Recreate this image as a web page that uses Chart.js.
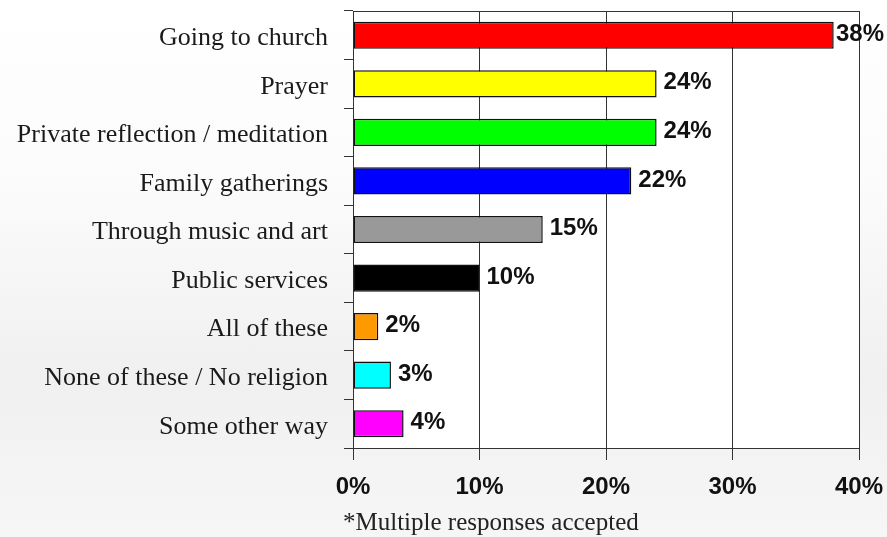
<!DOCTYPE html>
<html>
<head>
<meta charset="utf-8">
<script src="https://cdn.jsdelivr.net/npm/chart.js@4.4.1/dist/chart.umd.min.js"></script>
<style>
  html, body { margin: 0; padding: 0; }
  body {
    width: 887px; height: 537px; overflow: hidden;
    background: linear-gradient(180deg, #ffffff 0%, #fbfbfb 35%, #f0f0f0 70%, #f6f6f6 100%);
  }
  #wrap { position: relative; width: 887px; height: 537px; }
  canvas { display: block; }
</style>
</head>
<body>
<div id="wrap"><canvas id="chart" width="887" height="537"></canvas></div>
<script>
// Ways of expressing spirituality (percent of respondents)
const categories = [
  'Going to church',
  'Prayer',
  'Private reflection / meditation',
  'Family gatherings',
  'Through music and art',
  'Public services',
  'All of these',
  'None of these / No religion',
  'Some other way'
];
const values = [38, 24, 24, 22, 15, 10, 2, 3, 4];
const barColors = ['#ff0000', '#ffff00', '#00ff00', '#0000ff', '#999999', '#000000', '#ff9900', '#00ffff', '#ff00ff'];
const xTicks = [0, 10, 20, 30, 40];
const footnote = '*Multiple responses accepted';

const LINE = '#333333';

// White plot background plus the closing top frame line
const plotFrame = {
  id: 'plotFrame',
  beforeDraw(chart) {
    const { ctx, chartArea: a } = chart;
    ctx.save();
    ctx.fillStyle = '#ffffff';
    ctx.fillRect(a.left, a.top, a.right - a.left, a.bottom - a.top);
    ctx.restore();
  },
  afterDraw(chart) {
    const { ctx, chartArea: a } = chart;
    ctx.save();
    ctx.strokeStyle = LINE;
    ctx.lineWidth = 1;
    ctx.beginPath();
    ctx.moveTo(a.left, Math.round(a.top) + 0.5);
    ctx.lineTo(a.right, Math.round(a.top) + 0.5);
    ctx.stroke();
    ctx.restore();
  }
};

// Percentage labels at the end of each bar, plus the footnote
const valueLabels = {
  id: 'valueLabels',
  afterDatasetsDraw(chart) {
    const { ctx } = chart;
    const meta = chart.getDatasetMeta(0);
    ctx.save();
    ctx.font = 'bold 24px "Liberation Sans", Arial, sans-serif';
    ctx.fillStyle = '#111111';
    ctx.textBaseline = 'middle';
    ctx.textAlign = 'left';
    meta.data.forEach((bar, i) => {
      const text = values[i] + '%';
      const w = ctx.measureText(text).width;
      const x = Math.min(bar.x + 7, chart.width - w - 3);
      ctx.fillText(text, x, bar.y - 1);
    });
    ctx.font = '25px "Liberation Serif", "Times New Roman", serif';
    ctx.fillStyle = '#222222';
    ctx.textBaseline = 'alphabetic';
    ctx.fillText(footnote, 343, 530);
    ctx.restore();
  }
};

new Chart(document.getElementById('chart'), {
  type: 'bar',
  data: {
    labels: categories,
    datasets: [{
      data: values,
      backgroundColor: barColors,
      borderColor: '#111111',
      borderWidth: 1.5,
      borderSkipped: false,
      barPercentage: 0.56,
      categoryPercentage: 1.0
    }]
  },
  options: {
    indexAxis: 'y',
    responsive: false,
    animation: false,
    layout: { padding: { top: 11, right: 28, bottom: 0, left: 0 } },
    plugins: {
      legend: { display: false },
      tooltip: { enabled: false },
      title: { display: false }
    },
    scales: {
      x: {
        min: 0,
        max: 40,
        afterBuildTicks(scale) { scale.ticks = xTicks.map(v => ({ value: v })); },
        afterFit(scale) {
          scale.height = 89;
          scale.paddingLeft = 0;
          scale.paddingRight = 0;
        },
        grid: { color: LINE, lineWidth: 1, tickLength: 12, drawTicks: true },
        border: { color: LINE, width: 1 },
        ticks: {
          padding: 13,
          color: '#111111',
          font: { family: '"Liberation Sans", Arial, sans-serif', size: 24, weight: 'bold' },
          callback: v => v + '%',
          maxRotation: 0
        }
      },
      y: {
        afterFit(scale) {
          scale.width = 353;
          scale.paddingTop = 0;
          scale.paddingBottom = 0;
        },
        grid: { drawOnChartArea: false, drawTicks: true, tickLength: 9, color: LINE, lineWidth: 1, offset: true },
        border: { color: LINE, width: 1 },
        ticks: {
          padding: 16,
          labelOffset: 3,
          color: '#1a1a1a',
          font: { family: '"Liberation Serif", "Times New Roman", serif', size: 26 }
        }
      }
    }
  },
  plugins: [plotFrame, valueLabels]
});
</script>
</body>
</html>
